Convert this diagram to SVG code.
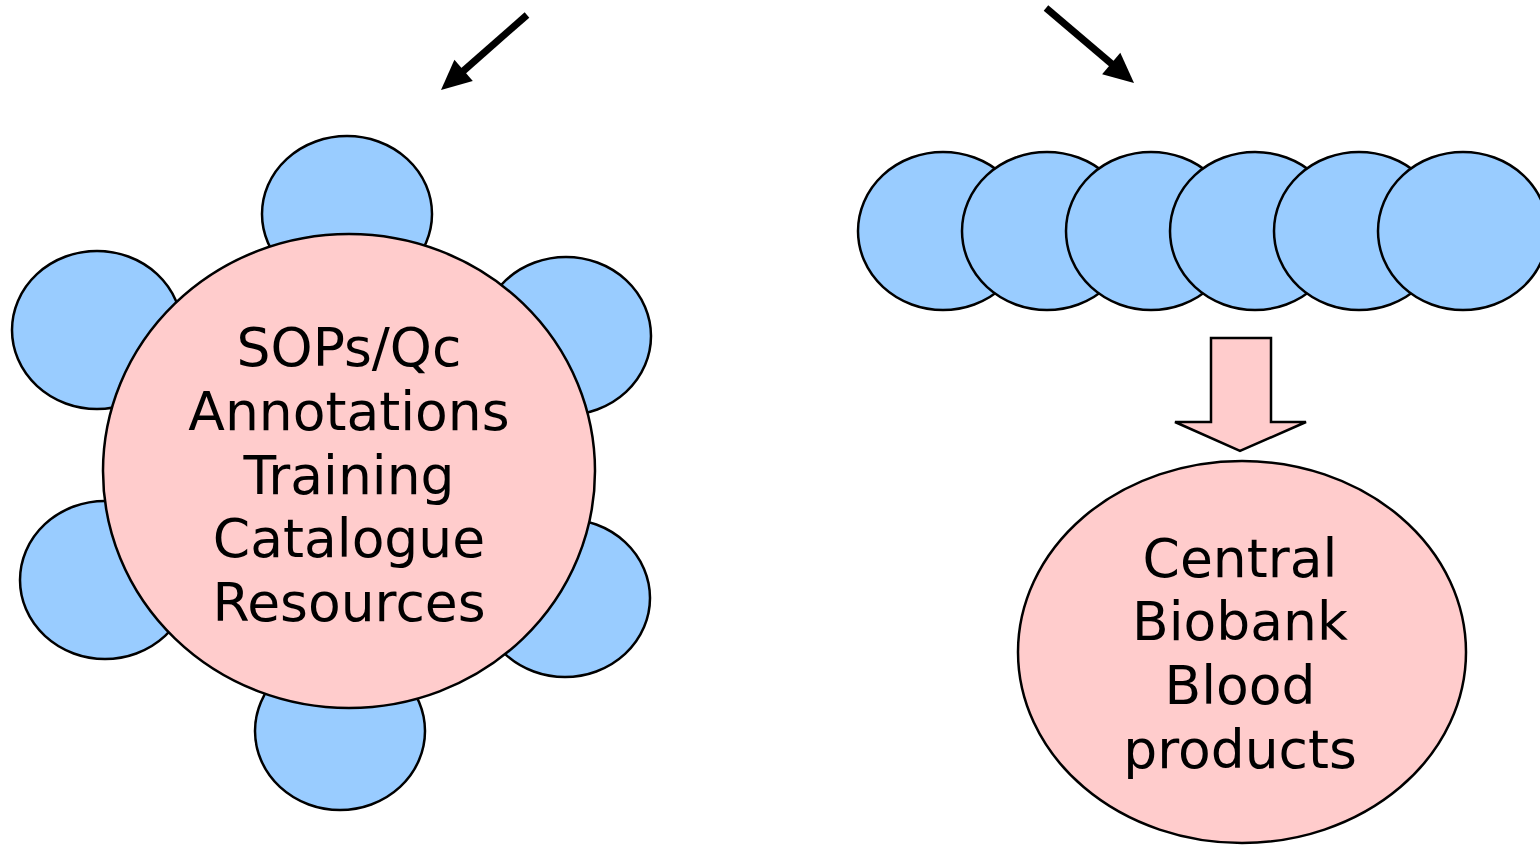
<svg xmlns="http://www.w3.org/2000/svg" width="1540" height="850" viewBox="0 0 1540 850">
  <style>
    .sat { fill: #99ccff; stroke: #000; stroke-width: 2.5; }
    .hub { fill: #ffcccc; stroke: #000; stroke-width: 2.5; }
    .lbl { font-family: "DejaVu Sans", Verdana, sans-serif; font-size: 53.5px; fill: #000; text-anchor: middle; }
    .ptr { stroke: #000; stroke-width: 7; fill: none; }
    .tip { fill: #000; }
  </style>

  <!-- pointers from above and the flow arrow -->
  <g id="connectors">
    <line class="ptr" x1="527" y1="15" x2="461" y2="73"/>
    <polygon class="tip" points="441,90 472.8,80.9 454.4,59.7"/>
    <line class="ptr" x1="1046" y1="8" x2="1113" y2="65"/>
    <polygon class="tip" points="1134,83 1102.1,74.2 1120.3,52.8"/>
    <path id="down-arrow" d="M1211,338 L1271,338 L1271,422 L1306,422 L1240,451 L1175,422 L1211,422 Z" fill="#ffcccc" stroke="#000" stroke-width="2.5" stroke-linejoin="miter"/>
  </g>

  <!-- network cluster: satellites around a central hub -->
  <g id="sat-top"><ellipse class="sat" cx="347" cy="214" rx="85" ry="78"/></g>
  <g id="sat-upper-left"><ellipse class="sat" cx="97" cy="330" rx="85" ry="79"/></g>
  <g id="sat-upper-right"><ellipse class="sat" cx="566" cy="336" rx="85" ry="79"/></g>
  <g id="sat-lower-left"><ellipse class="sat" cx="105" cy="580" rx="85" ry="79"/></g>
  <g id="sat-lower-right"><ellipse class="sat" cx="565" cy="598" rx="85" ry="79"/></g>
  <g id="sat-bottom"><ellipse class="sat" cx="340" cy="731" rx="85" ry="79"/></g>

  <g id="hub">
    <ellipse class="hub" cx="349" cy="471" rx="246" ry="237"/>
    <text class="lbl" x="349" y="366">SOPs/Qc</text>
    <text class="lbl" x="349" y="430">Annotations</text>
    <text class="lbl" x="349" y="494">Training</text>
    <text class="lbl" x="349" y="557">Catalogue</text>
    <text class="lbl" x="349" y="621">Resources</text>
  </g>

  <!-- chain of sites -->
  <g id="chain">
    <g id="site-1"><ellipse class="sat" cx="943" cy="231" rx="85" ry="79"/></g>
    <g id="site-2"><ellipse class="sat" cx="1047" cy="231" rx="85" ry="79"/></g>
    <g id="site-3"><ellipse class="sat" cx="1151" cy="231" rx="85" ry="79"/></g>
    <g id="site-4"><ellipse class="sat" cx="1255" cy="231" rx="85" ry="79"/></g>
    <g id="site-5"><ellipse class="sat" cx="1359" cy="231" rx="85" ry="79"/></g>
    <g id="site-6"><ellipse class="sat" cx="1463" cy="231" rx="85" ry="79"/></g>
  </g>

  <g id="central-biobank">
    <ellipse class="hub" cx="1242" cy="652" rx="224" ry="191"/>
    <text class="lbl" x="1240" y="577">Central</text>
    <text class="lbl" x="1240" y="640">Biobank</text>
    <text class="lbl" x="1240" y="704">Blood</text>
    <text class="lbl" x="1240" y="768">products</text>
  </g>
</svg>
